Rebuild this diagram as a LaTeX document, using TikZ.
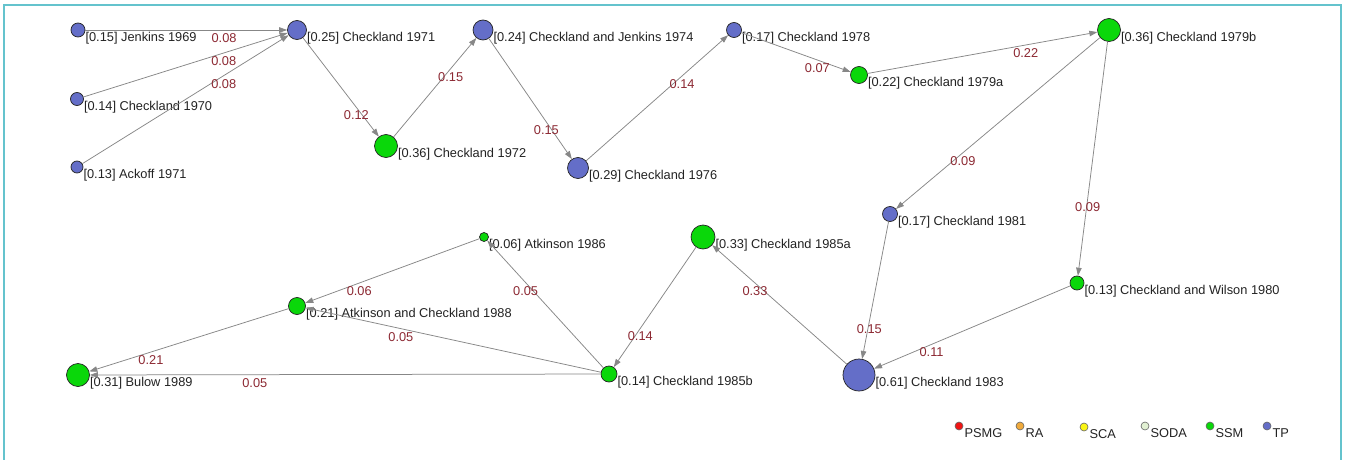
\documentclass[tikz,border=0pt]{standalone}
\usepackage{fontspec}
\setmainfont{Liberation Sans}
\usetikzlibrary{arrows.meta,calc}

\definecolor{tpblue}{RGB}{100,110,200}
\definecolor{ssmgreen}{RGB}{10,215,10}
\definecolor{psmgred}{RGB}{240,20,20}
\definecolor{raorange}{RGB}{240,170,60}
\definecolor{scayellow}{RGB}{250,245,20}
\definecolor{sodapale}{RGB}{225,240,210}
\definecolor{edgegray}{RGB}{135,135,135}
\definecolor{weightred}{RGB}{140,40,50}
\definecolor{framecyan}{RGB}{100,195,205}
\definecolor{inkgray}{RGB}{35,35,35}

\begin{document}
\begin{tikzpicture}[x=1pt,y=-1pt,
  font=\fontsize{12.8}{15}\selectfont,
  vert/.style={circle, draw=inkgray, line width=0.7pt, inner sep=0pt},
  tp/.style={vert, fill=tpblue, minimum size=#1},
  ssm/.style={vert, fill=ssmgreen, minimum size=#1},
  namelab/.style={anchor=west, inner sep=0pt, text=inkgray, yshift=-8pt},
  wt/.style={inner sep=0pt, text=weightred},
  link/.style={draw=edgegray, line width=0.75pt, -{Triangle[length=8pt,width=5.5pt]}},
  keydot/.style={circle, draw=inkgray!70, line width=0.6pt, inner sep=0pt, minimum size=8pt},
  keylab/.style={anchor=west, inner sep=0pt, text=inkgray, yshift=-7pt, xshift=1pt}]

\useasboundingbox (0,0) rectangle (1346,460);
\fill[white] (0,0) rectangle (1346,460);
\draw[framecyan, line width=2pt] (4,460) -- (4,5) -- (1341,5) -- (1341,460);

% publications (circle size = weight)
\node[tp=14]  (j69)  at (78,30)   [label={[namelab]east:[0.15] Jenkins 1969}] {};
\node[tp=13]  (c70)  at (77,99)   [label={[namelab]east:[0.14] Checkland 1970}] {};
\node[tp=12]  (a71)  at (77,167)  [label={[namelab]east:[0.13] Ackoff 1971}] {};
\node[tp=19]  (c71)  at (297,30)  [label={[namelab]east:[0.25] Checkland 1971}] {};
\node[ssm=23] (c72)  at (386,146) [label={[namelab]east:[0.36] Checkland 1972}] {};
\node[tp=20]  (cj74) at (483,30)  [label={[namelab]east:[0.24] Checkland and Jenkins 1974}] {};
\node[tp=21]  (c76)  at (578,168) [label={[namelab]east:[0.29] Checkland 1976}] {};
\node[tp=15]  (c78)  at (734,30)  [label={[namelab]east:[0.17] Checkland 1978}] {};
\node[ssm=17] (c79a) at (859,75)  [label={[namelab]east:[0.22] Checkland 1979a}] {};
\node[ssm=23] (c79b) at (1109,30) [label={[namelab]east:[0.36] Checkland 1979b}] {};
\node[tp=15]  (c81)  at (890,214) [label={[namelab]east:[0.17] Checkland 1981}] {};
\node[ssm=14] (cw80) at (1077,283)[label={[namelab]east:[0.13] Checkland and Wilson 1980}] {};
\node[tp=32]  (c83)  at (859,375) [label={[namelab]east:[0.61] Checkland 1983}] {};
\node[ssm=24] (c85a) at (703,237) [label={[namelab]east:[0.33] Checkland 1985a}] {};
\node[ssm=16] (c85b) at (609,374) [label={[namelab]east:[0.14] Checkland 1985b}] {};
\node[ssm=9]  (a86)  at (484,237) [label={[namelab]east:[0.06] Atkinson 1986}] {};
\node[ssm=17] (ac88) at (297,306) [label={[namelab]east:[0.21] Atkinson and Checkland 1988}] {};
\node[ssm=23] (b89)  at (78,375)  [label={[namelab]east:[0.31] Bulow 1989}] {};

% citation links with their weights
\foreach \src/\dst/\w [count=\k] in {
  j69/c71/0.08, c70/c71/0.08, a71/c71/0.08, c71/c72/0.12,
  c72/cj74/0.15, cj74/c76/0.15, c76/c78/0.14, c78/c79a/0.07,
  c79a/c79b/0.22, c79b/c81/0.09, c79b/cw80/0.09, c81/c83/0.15,
  cw80/c83/0.11, c83/c85a/0.33, c85a/c85b/0.14, c85b/a86/0.05,
  a86/ac88/0.06, c85b/ac88/0.05, ac88/b89/0.21, c85b/b89/0.05} {
  \draw[link] (\src) -- (\dst);
  \node[wt] (w\k) at ($(\src)!0.667!(\dst)+(0,8)$) {\w};
}

% legend
\node[keydot, fill=psmgred]   (kpsmg) at (959,426)  {};
\node[keylab] (tpsmg) at (kpsmg.east) {PSMG};
\node[keydot, fill=raorange]  (kra)   at (1020,426) {};
\node[keylab] (tra) at (kra.east) {RA};
\node[keydot, fill=scayellow] (ksca)  at (1084,427) {};
\node[keylab] (tsca) at (ksca.east) {SCA};
\node[keydot, fill=sodapale]  (ksoda) at (1145,426) {};
\node[keylab] (tsoda) at (ksoda.east) {SODA};
\node[keydot, fill=ssmgreen]  (kssm)  at (1210,426) {};
\node[keylab] (tssm) at (kssm.east) {SSM};
\node[keydot, fill=tpblue]    (ktp)   at (1267,426) {};
\node[keylab] (ttp) at (ktp.east) {TP};
\end{tikzpicture}
\end{document}
